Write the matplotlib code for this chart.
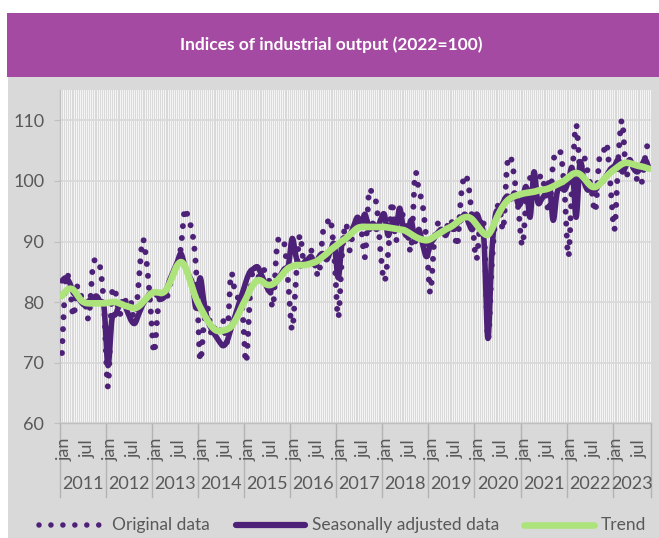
import numpy as np
import matplotlib
matplotlib.use("Agg")
import matplotlib.pyplot as plt
from matplotlib.patches import Rectangle
from matplotlib.lines import Line2D
import matplotlib.transforms as mtransforms

# ---------------- data (monthly, Jan 2011 - Oct 2023) ----------------
years = [2011, 2012, 2013, 2014, 2015, 2016, 2017, 2018, 2019, 2020, 2021, 2022, 2023]
month_labels = ["jan", "jul"]
y_ticks = [60, 70, 80, 90, 100, 110]

original = [
    71.6, 84.0, 83.0, 77.6, 82.6, 81.0, 80.0, 77.4, 85.5, 87.1, 85.6, 79.0,   # 2011
    66.0, 81.0, 81.5, 77.8, 81.0, 79.5, 80.0, 76.5, 83.5, 90.3, 87.0, 80.0,   # 2012
    71.6, 78.7, 81.5, 80.0, 82.5, 84.5, 86.0, 89.0, 95.3, 93.5, 91.5, 85.0,   # 2013
    70.5, 76.5, 79.0, 74.5, 76.0, 75.0, 77.0, 73.4, 84.5, 82.0, 80.5, 79.0,   # 2014
    70.0, 81.0, 86.0, 84.0, 85.5, 85.0, 83.5, 79.2, 89.0, 90.6, 89.5, 83.0,   # 2015
    75.4, 84.0, 91.1, 86.5, 87.5, 88.5, 86.0, 84.5, 91.5, 92.8, 93.6, 87.5,   # 2016
    77.4, 88.0, 93.0, 88.5, 92.5, 93.5, 92.0, 87.5, 98.1, 97.4, 96.0, 88.5,   # 2017
    83.4, 88.0, 96.6, 90.0, 95.0, 94.0, 92.0, 88.6, 101.0, 98.5, 96.0, 90.0,  # 2018
    81.5, 90.0, 93.0, 91.5, 93.0, 92.0, 93.5, 89.2, 97.5, 101.0, 99.0, 93.0,  # 2019
    87.0, 93.0, 92.0, 73.8, 86.0, 94.0, 96.0, 92.0, 102.6, 103.8, 100.0, 95.0,  # 2020
    89.3, 97.0, 100.5, 99.0, 99.5, 101.0, 98.0, 95.0, 103.0, 104.6, 104.5, 98.0,  # 2021
    87.5, 101.0, 109.3, 102.0, 104.0, 101.5, 98.5, 95.0, 103.5, 104.5, 106.0, 99.0,  # 2022
    92.0, 104.0, 110.0, 101.0, 103.5, 102.0, 100.0, 99.5, 104.0, 107.4,  # 2023
]

seasonally_adjusted = [
    83.5, 84.0, 83.2, 81.5, 81.0, 80.0, 79.5, 80.2, 80.5, 81.0, 80.0, 79.0,
    69.5, 77.0, 78.0, 79.5, 80.0, 78.5, 77.0, 76.5, 78.0, 79.5, 80.5, 81.5,
    81.5, 81.0, 80.5, 81.5, 83.5, 85.0, 86.5, 88.0, 86.0, 84.5, 83.0, 79.0,
    84.0, 80.0, 77.0, 75.5, 74.5, 73.5, 72.8, 73.5, 75.5, 77.5, 79.5, 81.5,
    83.5, 85.0, 85.5, 85.8, 84.5, 83.0, 81.8, 82.5, 83.5, 84.5, 85.5, 86.0,
    90.5, 87.5, 86.0, 86.5, 87.0, 87.5, 86.0, 87.5, 88.0, 87.0, 88.5, 89.5,
    84.0, 90.0, 90.5, 91.0, 92.5, 94.0, 93.0, 94.5, 92.0, 93.0, 92.0, 93.5,
    94.5, 91.0, 93.0, 92.0, 95.5, 92.0, 91.0, 93.5, 90.0, 92.0, 89.5, 87.5,
    89.5, 90.5, 91.5, 92.0, 91.0, 92.5, 92.0, 93.0, 93.5, 94.5, 93.0, 92.0,
    94.5, 93.0, 90.0, 74.0, 88.0, 94.5, 95.0, 96.5, 97.5, 97.0, 98.0, 96.0,
    97.0, 99.0, 94.0, 101.5, 96.5, 97.0, 98.0, 99.5, 93.5, 98.0, 99.0, 98.5,
    100.0, 102.0, 94.0, 103.0, 100.0, 98.5, 99.0, 98.5, 99.5, 100.0, 101.0, 102.0,
    102.5, 103.5, 101.5, 102.5, 103.5, 102.0, 101.5, 102.5, 103.5, 102.0,
]

trend = [
    81.0, 81.8, 82.2, 82.0, 81.2, 80.3, 79.9, 79.8, 79.8, 79.8, 79.8, 79.8,
    79.9, 80.0, 80.0, 79.8, 79.5, 79.3, 79.1, 79.0, 79.3, 79.9, 80.6, 81.3,
    81.6, 81.6, 81.5, 81.9, 83.0, 84.6, 86.0, 86.6, 86.0, 84.3, 82.3, 80.5,
    79.2, 78.0, 76.9, 76.0, 75.4, 75.2, 75.3, 75.5, 75.9, 76.8, 78.0, 79.4,
    80.6, 82.0, 83.0, 83.6, 83.5, 83.0, 82.8, 83.0, 83.5, 84.2, 85.0, 85.6,
    85.9, 86.1, 86.1, 86.1, 86.2, 86.4, 86.6, 87.0, 87.5, 88.0, 88.6, 89.1,
    89.6, 90.1, 90.5, 91.1, 91.7, 92.2, 92.4, 92.4, 92.4, 92.4, 92.4, 92.4,
    92.4, 92.3, 92.2, 92.1, 92.0, 91.9, 91.6, 91.2, 90.8, 90.5, 90.3, 90.2,
    90.4, 90.8, 91.2, 91.6, 92.0, 92.3, 92.7, 93.2, 93.7, 94.0, 94.0, 93.6,
    92.8, 92.0, 91.3, 91.1, 92.0, 93.5, 94.8, 95.9, 96.7, 97.2, 97.5, 97.7,
    97.9, 98.0, 98.1, 98.2, 98.4, 98.5, 98.6, 98.8, 99.1, 99.4, 99.7, 100.1,
    100.6, 101.1, 101.3, 101.1, 100.5, 99.7, 99.1, 99.0, 99.4, 100.1, 100.8, 101.4,
    101.9, 102.4, 102.8, 103.0, 102.9, 102.7, 102.5, 102.4, 102.2, 102.0,
]

# ---------------- styling ----------------
PURPLE_BAR = "#a54aa2"
GRAY_BG = "#d9d9d9"
DARK = "#4e2178"
GREEN = "#ade37b"
TXT = "#595959"
GRID = "#d9d9d9"
FONT = "Lato"

W, H = 659, 538
fig = plt.figure(figsize=(W / 100, H / 100), dpi=100)
fig.patch.set_facecolor("white")


def fx(px):
    return px / W


def fy(py):
    return 1 - py / H


def smooth(xv, yv, steps=10):
    """Excel-like smoothed line (Catmull-Rom / Bezier through the points)."""
    P = np.column_stack([xv, yv]).astype(float)
    P = np.vstack([P[0], P, P[-1]])
    t = np.linspace(0, 1, steps, endpoint=False)[:, None]
    out = []
    for i in range(1, len(P) - 2):
        p0, p1, p2, p3 = P[i - 1], P[i], P[i + 1], P[i + 2]
        seg = 0.5 * ((2 * p1) + (-p0 + p2) * t
                     + (2 * p0 - 5 * p1 + 4 * p2 - p3) * t ** 2
                     + (-p0 + 3 * p1 - 3 * p2 + p3) * t ** 3)
        out.append(seg)
    out.append(P[-2][None, :])
    s = np.vstack(out)
    return s[:, 0], s[:, 1]


# background panels
fig.patches.append(Rectangle((fx(8), 0), 1 - fx(8), fy(77), transform=fig.transFigure,
                             facecolor=GRAY_BG, edgecolor="none", zorder=-10))
fig.patches.append(Rectangle((fx(7), fy(77)), 1 - fx(7), fy(13) - fy(77), transform=fig.transFigure,
                             facecolor=PURPLE_BAR, edgecolor="none", zorder=-10))
fig.text(fx(331), fy(45), "Indices of industrial output (2022=100)", color="white",
         fontsize=12.5, fontweight="bold", ha="center", va="center", family=FONT)

# axes
ax = fig.add_axes([fx(60), fy(423.3), fx(651) - fx(60), fy(90) - fy(423.3)])
ax.set_zorder(2)
ax.set_facecolor("white")
n = len(original)
x = np.arange(n)
ax.set_xlim(-0.5, n - 0.5)
ax.set_ylim(60, 115)

for v in np.arange(-0.5, n, 0.5):
    ax.axvline(v, color=GRID, lw=0.9, zorder=0)
for t in y_ticks:
    ax.axhline(t, color=GRID, lw=1.3, zorder=0)

for s in ["top", "right"]:
    ax.spines[s].set_visible(False)
ax.spines["left"].set_color("#bfbfbf")
ax.spines["bottom"].set_color("#bfbfbf")
ax.spines["left"].set_linewidth(1.0)
ax.spines["bottom"].set_linewidth(1.0)

ax.set_yticks(y_ticks)
ax.set_yticklabels([str(t) for t in y_ticks], family=FONT)
ax.tick_params(axis="y", length=4.3, color="#bfbfbf", labelcolor=TXT, labelsize=13, pad=7)
ax.set_xticks([])

# series
xs, ys = smooth(x, original)
ax.plot(xs, ys, color=DARK, lw=4.3, linestyle=(0, (0.001, 2.0)),
        dash_capstyle="round", zorder=3)
xs, ys = smooth(x, seasonally_adjusted)
ax.plot(xs, ys, color=DARK, lw=4.0, solid_capstyle="round", zorder=4)
xs, ys = smooth(x, trend)
ax.plot(xs, ys, color=GREEN, lw=4.8, solid_capstyle="round", zorder=5)

# category axis labels (multi-level)
bt = mtransforms.blended_transform_factory(ax.transData, fig.transFigure)
for k, yr in enumerate(years):
    start = 12 * k
    for j, lab in zip([0, 6], month_labels):
        if start + j < n:
            ax.text(start + j + 0.6, fy(449), lab, transform=bt, rotation=90,
                    ha="center", va="center", fontsize=13, color=TXT, family=FONT)
    end = min(start + 12, n)
    ax.text((start + end - 1) / 2, fy(484), str(yr), transform=bt, ha="center",
            va="center", fontsize=13, color=TXT, family=FONT)
    ax.add_line(Line2D([start - 0.5, start - 0.5], [fy(423.3), fy(497)], transform=bt,
                       color="#b3b3b3", lw=1.0, clip_on=False))
ax.add_line(Line2D([n - 0.5, n - 0.5], [fy(423.3), fy(497)], transform=bt,
                   color="#b3b3b3", lw=1.0, clip_on=False))

# legend
ly = fy(525)
fig.add_artist(Line2D([fx(39), fx(102)], [ly, ly], transform=fig.transFigure, color=DARK,
                      lw=4.0, linestyle=(0, (0.001, 2.15)), dash_capstyle="round"))
fig.text(fx(112), ly, "Original data", ha="left", va="center", fontsize=12.5, color=TXT, family=FONT)
fig.add_artist(Line2D([fx(236), fx(305)], [ly, ly], transform=fig.transFigure, color=DARK,
                      lw=4.5, solid_capstyle="round"))
fig.text(fx(312), ly, "Seasonally adjusted data", ha="left", va="center", fontsize=12.5, color=TXT,
         family=FONT)
fig.add_artist(Line2D([fx(524), fx(594)], [ly, ly], transform=fig.transFigure, color=GREEN,
                      lw=4.8, solid_capstyle="round"))
fig.text(fx(601), ly, "Trend", ha="left", va="center", fontsize=12.5, color=TXT, family=FONT)

fig.savefig("out.png", dpi=100)
